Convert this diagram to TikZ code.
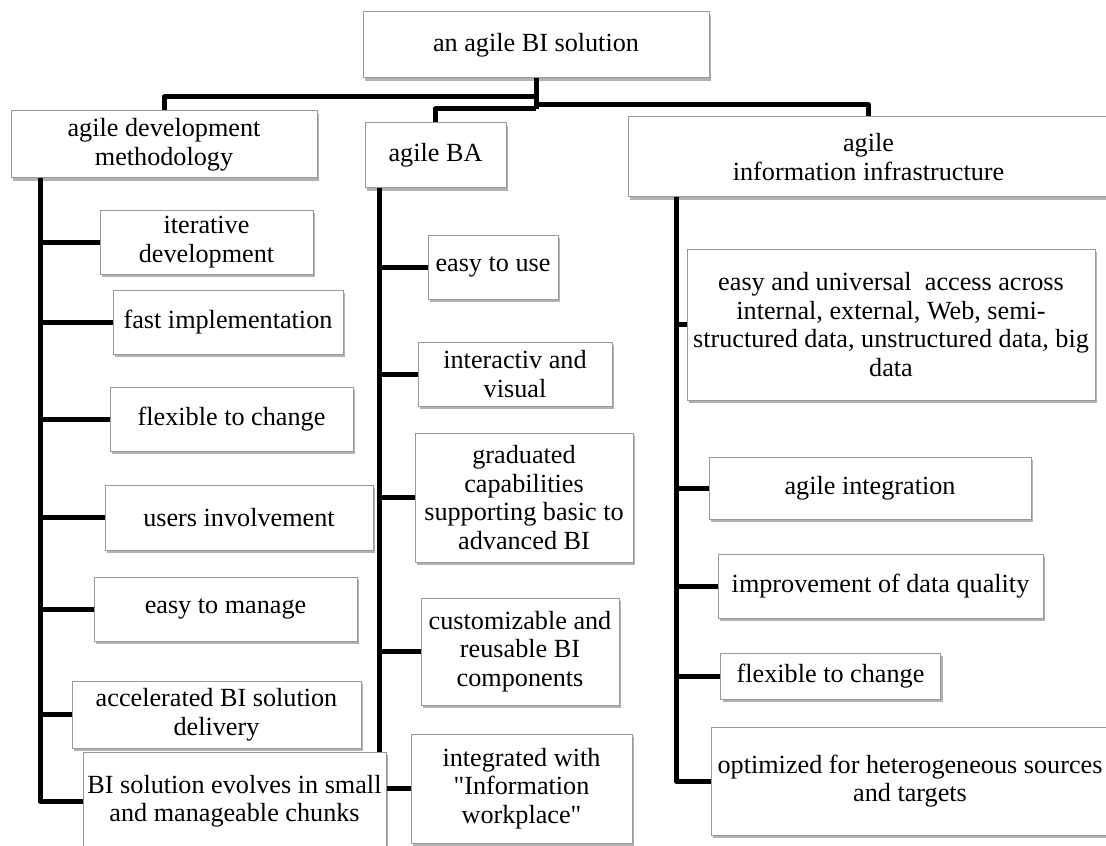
\documentclass[tikz,border=0pt]{standalone}
\usepackage{fontspec}
\setmainfont{Liberation Serif}[Ligatures=TeXOff]
\usetikzlibrary{shadows}
\pgfdeclarelayer{background}
\pgfsetlayers{background,main}

\tikzset{
  cell/.style 2 args={draw=black!40, line width=0.5pt, fill=white, inner sep=0pt,
    align=center, minimum width=#1*0.5pt, minimum height=#2*0.5pt,
    font=\fontsize{13.1}{14.25}\selectfont,
    drop shadow={shadow xshift=1.1pt, shadow yshift=-1.3pt, fill=black, opacity=0.3}},
  conn/.style={line width=2.5pt, line join=round, draw=black},
}

\begin{document}
\begin{tikzpicture}[x=0.5pt, y=-0.5pt]
\useasboundingbox (0,0) rectangle (1106,845);
\clip (0,0) rectangle (1106,845);

% root and the three main branches
\node[cell={346}{66}] (top) at (536,45) {an agile BI solution};
\node[cell={306}{67}] (dev) at (164,144.5) {agile development\\methodology};
\node[cell={141}{65}] (ba) at (435.5,155.5) {agile BA};
\node[cell={481}{80}] (infra) at (868.5,157) {agile\\information infrastructure};

% development methodology
\node[cell={213}{64}] (iter) at (206.5,242) {iterative\\development};
\node[cell={230}{64}] (fast) at (228,322) {fast implementation};
\node[cell={243}{64}] (flexL) at (231.5,419) {flexible to change};
\node[cell={268}{65}] (users) at (239,517.5) {users involvement};
\node[cell={263}{64}] (manage) at (225.5,609) {easy to manage};
\node[cell={289}{67}] (accel) at (216.5,714.5) {accelerated BI solution\\delivery};
\node[cell={303}{98}] (evolve) at (234.5,801) {BI solution evolves in small\\and manageable chunks};

% business analytics
\node[cell={130}{64}] (easyuse) at (493,267) {easy to use};
\node[cell={194}{64}] (inter) at (515,374) {interactiv and\\visual};
\node[cell={218}{129}] (grad) at (524,497.5) {graduated\\capabilities\\supporting basic to\\advanced BI};
\node[cell={198}{107}] (custom) at (520,651.5) {customizable and\\reusable BI\\components};
\node[cell={221}{109}] (integ) at (521.5,788.5) {integrated with\\"Information\\workplace"};

% information infrastructure
\node[cell={408}{151}] (univ) at (891,324.5) {easy and universal\ \ access across\\internal, external, Web, semi-\\structured data, unstructured data, big\\data};
\node[cell={322}{62}] (aginteg) at (870,488) {agile integration};
\node[cell={325}{64}] (improve) at (880.5,586) {improvement of data quality};
\node[cell={220}{46}] (flexR) at (830.5,676) {flexible to change};
\node[cell={398}{108}] (optim) at (910,781) {optimized for heterogeneous sources\\and targets};

% junctions below the root
\coordinate (hubL) at (536,97);
\coordinate (hubR) at (536,105);
\coordinate (hubM) at (536,109);
% tops of the three trunks
\coordinate (devT) at (40,178);
\coordinate (baT) at (379,188);
\coordinate (infT) at (676,197);

\begin{pgfonlayer}{background}
  \fill[white] (0,0) rectangle (1106,845);

  \draw[conn] (top.south) -- (hubM);
  \draw[conn] (hubL) -| (dev.north);
  \draw[conn] (hubM) -| (ba.north);
  \draw[conn] (hubR) -| (infra.north);

  \draw[conn] (devT) |- (evolve.west);
  \foreach \n in {iter,fast,flexL,users,manage,accel}
    \draw[conn] (devT |- \n.west) -- (\n.west);

  \draw[conn] (baT) |- (integ.west);
  \foreach \n in {easyuse,inter,grad,custom}
    \draw[conn] (baT |- \n.west) -- (\n.west);

  \draw[conn] (infT) |- (optim.west);
  \foreach \n in {univ,aginteg,improve,flexR}
    \draw[conn] (infT |- \n.west) -- (\n.west);
\end{pgfonlayer}
\end{tikzpicture}
\end{document}
